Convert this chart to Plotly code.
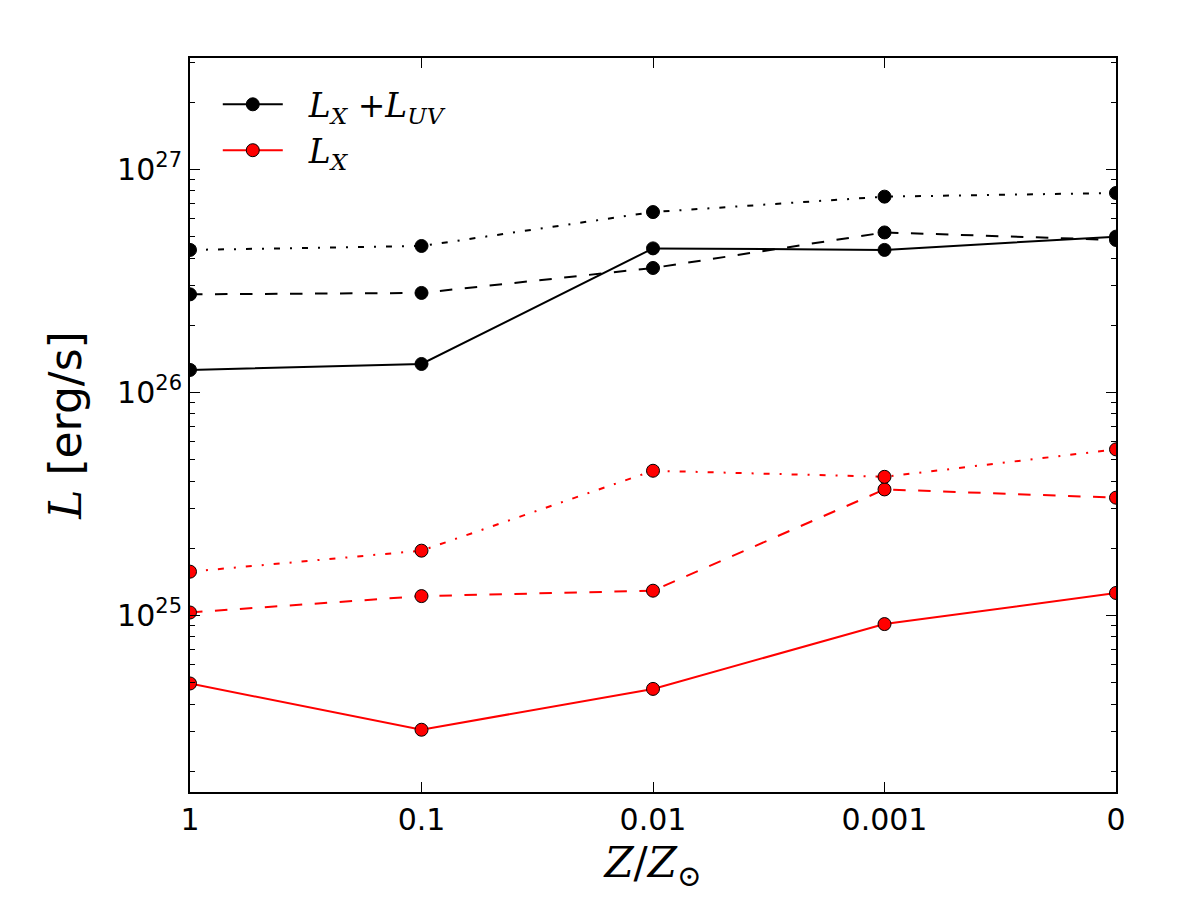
import plotly.graph_objects as go

z_labels = ["1", "0.1", "0.01", "0.001", "0"]
x_pos = [0, 1, 2, 3, 4]

# L_X + L_UV (black)
tot_solid = [1.26e26, 1.34e26, 4.42e26, 4.35e26, 4.99e26]
tot_dash = [2.75e26, 2.79e26, 3.61e26, 5.21e26, 4.82e26]
tot_dashdot = [4.35e26, 4.53e26, 6.43e26, 7.54e26, 7.83e26]

# L_X (red)
x_solid = [4.95e24, 3.07e24, 4.68e24, 9.14e24, 1.26e25]
x_dash = [1.03e25, 1.22e25, 1.29e25, 3.67e25, 3.37e25]
x_dashdot = [1.57e25, 1.95e25, 4.45e25, 4.18e25, 5.55e25]

y_tickvals = [1e25, 1e26, 1e27]
y_ticktext = ["10<sup>25</sup>", "10<sup>26</sup>", "10<sup>27</sup>"]
decades = [1e24, 1e25, 1e26, 1e27]
mantissas = [2, 3, 4, 5, 6, 7, 8, 9]
y_minor = [m * d for d in decades for m in mantissas]

DASH = "12.5px,12.5px"
DASHDOT = "6px,10px,2px,10px"

fig = go.Figure()

def add(y, color, dash, name=None, group=None):
    fig.add_trace(go.Scatter(
        x=x_pos, y=y, mode="lines+markers",
        line=dict(color=color, width=2, dash=dash),
        marker=dict(size=13, color=color, line=dict(color="black", width=1)),
        name=name if name else "",
        showlegend=name is not None,
        legendgroup=group,
    ))

add(tot_solid, "black", "solid",
    "\u00a0\u00a0<i>L</i><sub><i>X</i></sub> +<i>L</i><sub><i>UV</i></sub>", "a")
add(x_solid, "red", "solid", "\u00a0\u00a0<i>L</i><sub><i>X</i></sub>", "b")
add(tot_dash, "black", DASH)
add(tot_dashdot, "black", DASHDOT)
add(x_dash, "red", DASH)
add(x_dashdot, "red", DASHDOT)

fig.update_layout(
    width=1200, height=900,
    margin=dict(l=190, r=84, t=58, b=108),
    paper_bgcolor="white", plot_bgcolor="white",
    font=dict(family="DejaVu Sans", color="black", size=30),
    legend=dict(
        x=0.03, y=0.975, xanchor="left", yanchor="top",
        bgcolor="rgba(0,0,0,0)", borderwidth=0,
        font=dict(family="DejaVu Serif", size=33),
        itemwidth=60, tracegroupgap=0, traceorder="grouped",
    ),
    xaxis=dict(
        range=[0, 4], tickvals=x_pos, ticktext=z_labels,
        ticks="inside", ticklen=10, tickwidth=1, tickcolor="black",
        showline=True, linecolor="black", linewidth=2, mirror="ticks",
        showgrid=False, zeroline=False,
        tickfont=dict(family="DejaVu Sans", size=30),
        title=dict(text="<i>Z</i>/<i>Z</i><sub>⊙</sub>",
                   font=dict(family="DejaVu Serif", size=42), standoff=12),
    ),
    yaxis=dict(
        type="log", range=[24.208, 27.499],
        tickvals=y_tickvals, ticktext=y_ticktext,
        ticks="inside", ticklen=10, tickwidth=1, tickcolor="black",
        minor=dict(tickmode="array", tickvals=y_minor, ticks="inside",
                   ticklen=5, tickwidth=1, tickcolor="black", showgrid=False),
        showline=True, linecolor="black", linewidth=2, mirror="ticks",
        showgrid=False, zeroline=False,
        tickfont=dict(family="DejaVu Sans", size=30),
        title=dict(text="<i style='font-family:DejaVu Serif'>L</i> [erg/s]",
                   font=dict(family="DejaVu Sans", size=44), standoff=22),
    ),
)

fig.write_html("out.html")
